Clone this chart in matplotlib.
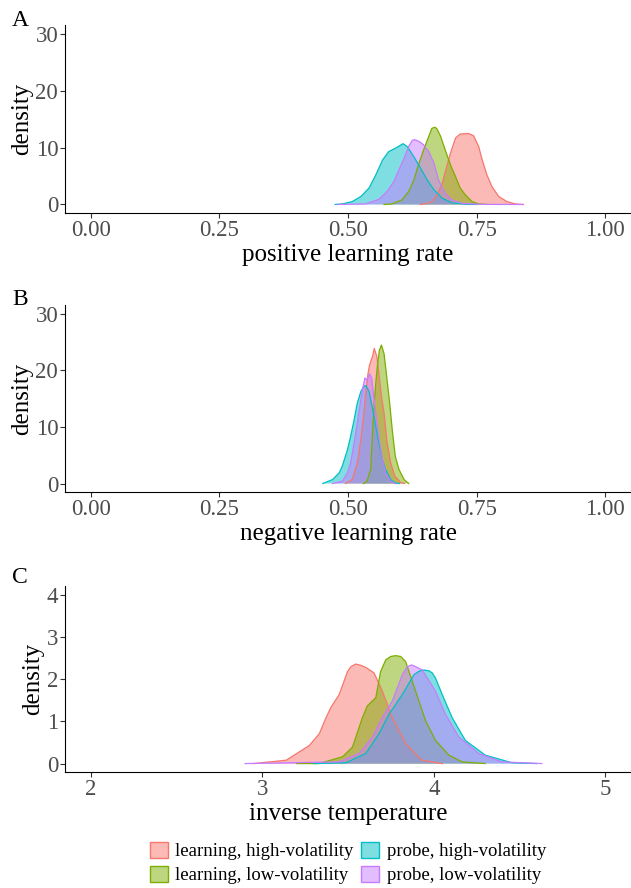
import numpy as np
import matplotlib
matplotlib.use("Agg")
from matplotlib import pyplot as plt
from matplotlib.patches import Patch
from matplotlib.colors import to_rgba

plt.rcParams['font.family'] = ['Liberation Serif', 'DejaVu Serif']

groups = ['learning, high-volatility', 'learning, low-volatility',
          'probe, high-volatility', 'probe, low-volatility']
colors = ['#F8766D', '#7CAE00', '#00BFC4', '#C77CFF']

# panel A: positive learning rate (x, density)
posA_x = {
    'learning, high-volatility': [0.64, 0.650, 0.663, 0.673, 0.683, 0.692, 0.699, 0.709, 0.718, 0.734, 0.744,
                                  0.754, 0.760, 0.770, 0.780, 0.793, 0.809, 0.825, 0.841],
    'learning, low-volatility': [0.57, 0.585, 0.605, 0.618, 0.628, 0.638, 0.647, 0.657, 0.663, 0.669, 0.673,
                                 0.680, 0.689, 0.699, 0.709, 0.718, 0.728, 0.741, 0.754, 0.77],
    'probe, high-volatility': [0.475, 0.489, 0.508, 0.525, 0.541, 0.554, 0.567, 0.579, 0.592, 0.607, 0.615,
                               0.628, 0.641, 0.654, 0.667, 0.683, 0.702, 0.728, 0.75],
    'probe, low-volatility': [0.48, 0.534, 0.560, 0.576, 0.589, 0.599, 0.609, 0.618, 0.625, 0.630, 0.638,
                              0.647, 0.657, 0.667, 0.676, 0.689, 0.702, 0.721, 0.76, 0.84],
}
posA_y = {
    'learning, high-volatility': [0, 0.1, 0.5, 1.7, 3.7, 6.7, 9.0, 11.7, 12.4, 12.5, 12.1,
                                  10.2, 8.1, 5.2, 3.1, 1.4, 0.5, 0.1, 0],
    'learning, low-volatility': [0, 0.1, 0.8, 2.3, 4.3, 7.3, 9.6, 12.0, 13.4, 13.6, 13.3,
                                 12.0, 9.6, 7.0, 4.9, 2.9, 1.7, 0.5, 0.1, 0],
    'probe, high-volatility': [0, 0.1, 0.5, 1.4, 2.9, 5.2, 7.8, 9.3, 9.9, 10.7, 10.2,
                               8.4, 6.4, 4.3, 2.6, 1.1, 0.3, 0.05, 0],
    'probe, low-volatility': [0, 0.1, 0.9, 2.3, 4.0, 6.1, 8.1, 10.2, 11.3, 11.4, 11.1,
                              10.5, 9.3, 7.3, 4.3, 2.0, 0.8, 0.2, 0.02, 0],
}

# panel B: negative learning rate
negB_x = {
    'learning, high-volatility': [0.495, 0.508, 0.518, 0.525, 0.531, 0.535, 0.539, 0.542, 0.548, 0.551, 0.556,
                                  0.560, 0.565, 0.570, 0.576, 0.583, 0.591, 0.602, 0.61],
    'learning, low-volatility': [0.53, 0.537, 0.544, 0.548, 0.551, 0.554, 0.557, 0.561, 0.565, 0.570, 0.576,
                                 0.581, 0.586, 0.592, 0.599, 0.609, 0.618],
    'probe, high-volatility': [0.451, 0.470, 0.483, 0.489, 0.499, 0.505, 0.512, 0.518, 0.525, 0.531, 0.535,
                               0.541, 0.547, 0.554, 0.560, 0.567, 0.573, 0.583, 0.592, 0.60],
    'probe, low-volatility': [0.47, 0.489, 0.499, 0.505, 0.514, 0.521, 0.528, 0.533, 0.537, 0.542, 0.546,
                              0.550, 0.555, 0.560, 0.567, 0.573, 0.583, 0.592],
}
negB_y = {
    'learning, high-volatility': [0, 0.7, 3.6, 7.8, 12.5, 16.6, 19.5, 21.0, 22.6, 23.9, 22.5,
                                  19.5, 15.4, 12.5, 7.2, 3.6, 1.3, 0.2, 0],
    'learning, low-volatility': [0, 0.4, 2.5, 9.5, 14.2, 17.8, 20.7, 23.6, 24.5, 23.0, 18.3,
                                 14.2, 9.5, 4.8, 2.5, 0.7, 0],
    'probe, high-volatility': [0, 0.7, 1.9, 3.1, 6.0, 8.3, 11.3, 14.2, 16.3, 17.2, 17.3,
                               16.3, 13.6, 10.1, 7.2, 4.2, 2.5, 0.7, 0.1, 0],
    'probe, low-volatility': [0, 0.4, 1.9, 3.6, 8.3, 12.5, 16.6, 18.7, 18.3, 19.4, 18.6,
                              15.4, 11.9, 8.3, 4.2, 1.9, 0.4, 0],
}

# panel C: inverse temperature
tempC_x = {
    'learning, high-volatility': [2.95, 3.14, 3.217, 3.275, 3.333, 3.372, 3.40, 3.449, 3.497, 3.517, 3.546,
                                  3.575, 3.604, 3.652, 3.70, 3.758, 3.836, 3.93, 4.05],
    'learning, low-volatility': [3.2, 3.33, 3.468, 3.526, 3.584, 3.613, 3.662, 3.69, 3.72, 3.749, 3.778,
                                 3.807, 3.836, 3.894, 3.952, 4.01, 4.088, 4.165, 4.3],
    'probe, high-volatility': [3.3, 3.488, 3.604, 3.681, 3.739, 3.817, 3.885, 3.914, 3.943, 3.972, 3.991,
                               4.01, 4.049, 4.107, 4.184, 4.30, 4.455, 4.6],
    'probe, low-volatility': [2.9, 3.449, 3.565, 3.643, 3.70, 3.758, 3.817, 3.846, 3.871, 3.894, 3.933,
                              4.01, 4.068, 4.146, 4.262, 4.397, 4.63],
}
tempC_y = {
    'learning, high-volatility': [0, 0.08, 0.28, 0.43, 0.71, 1.09, 1.33, 1.64, 2.18, 2.30, 2.36,
                                  2.33, 2.28, 2.15, 1.72, 1.09, 0.47, 0.08, 0],
    'learning, low-volatility': [0, 0.0, 0.16, 0.39, 1.09, 1.37, 1.56, 2.18, 2.46, 2.54, 2.56,
                                 2.54, 2.42, 1.72, 1.02, 0.55, 0.2, 0.04, 0],
    'probe, high-volatility': [0, 0.02, 0.24, 0.71, 1.17, 1.64, 2.11, 2.19, 2.22, 2.20, 2.15,
                               2.03, 1.64, 1.09, 0.55, 0.2, 0.02, 0],
    'probe, low-volatility': [0, 0.04, 0.24, 0.63, 1.09, 1.48, 2.11, 2.30, 2.34, 2.30, 2.22,
                              1.72, 1.17, 0.63, 0.24, 0.04, 0],
}

W, H = 631, 888
fig = plt.figure(figsize=(W / 100, H / 100), dpi=100)


def make_ax(top, bottom, left=65, right=631):
    return fig.add_axes([left / W, 1 - bottom / H, (right - left) / W, (bottom - top) / H])


panels = [
    (posA_x, posA_y, 'positive learning rate', (-0.05, 1.05), [0, 0.25, 0.5, 0.75, 1.0],
     ['0.00', '0.25', '0.50', '0.75', '1.00'], (-1.5, 31.5), [0, 10, 20, 30], 25.5, 213, 'A', 26),
    (negB_x, negB_y, 'negative learning rate', (-0.05, 1.05), [0, 0.25, 0.5, 0.75, 1.0],
     ['0.00', '0.25', '0.50', '0.75', '1.00'], (-1.5, 31.5), [0, 10, 20, 30], 305.5, 492, 'B', 305),
    (tempC_x, tempC_y, 'inverse temperature', (1.85, 5.15), [2, 3, 4, 5],
     ['2', '3', '4', '5'], (-0.2, 4.2), [0, 1, 2, 3, 4], 586.5, 772, 'C', 583),
]

for xs, ys, xlab, xlim, xt, xtl, ylim, yt, top, bottom, letter, ly in panels:
    ax = make_ax(top, bottom)
    for g, c in zip(groups, colors):
        ax.fill_between(xs[g], ys[g], 0, facecolor=to_rgba(c, 0.5), edgecolor='none')
        ax.plot(xs[g], ys[g], color=c, lw=0.9, solid_joinstyle='round')
    ax.set_xlim(*xlim)
    ax.set_ylim(*ylim)
    ax.set_xticks(xt)
    ax.set_xticklabels(xtl)
    ax.set_yticks(yt)
    for s in ['top', 'right']:
        ax.spines[s].set_visible(False)
    for s in ['left', 'bottom']:
        ax.spines[s].set_linewidth(0.8)
        ax.spines[s].set_color('black')
    ax.tick_params(length=3.4, width=0.8, color='#333333', labelcolor='#4D4D4D',
                   labelsize=16.5, pad=1.5)
    ax.set_xlabel(xlab, fontsize=18, labelpad=2)
    ax.set_ylabel('density', fontsize=18, labelpad=2)
    fig.text(12 / W, 1 - ly / H, letter, fontsize=17, va='baseline', ha='left')

handles = [Patch(facecolor=to_rgba(c, 0.5), edgecolor=c, linewidth=1, label=g)
           for g, c in zip(groups, colors)]
fig.legend(handles=handles, loc='center', bbox_to_anchor=(348 / W, 1 - 863 / H),
           ncol=2, frameon=False, fontsize=13.5, handlelength=0.95, handleheight=0.95,
           handletextpad=0.4, columnspacing=0.4, labelspacing=0.28, borderpad=0)

fig.savefig('out.png', dpi=100)
